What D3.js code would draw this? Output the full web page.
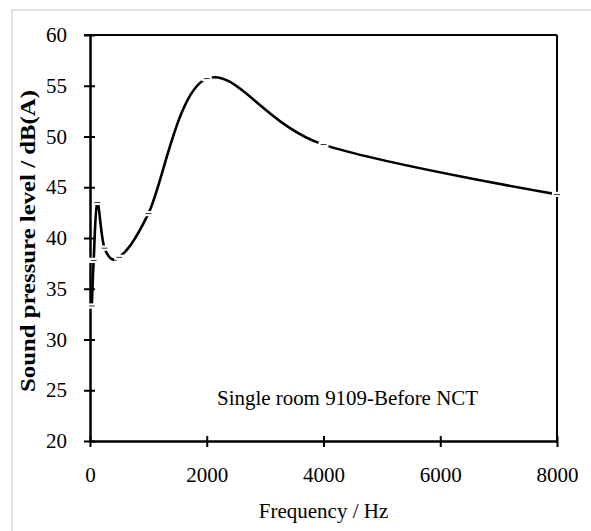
<!DOCTYPE html>
<html><head><meta charset="utf-8">
<script src="https://cdn.jsdelivr.net/npm/d3@7"></script>
<style>html,body{margin:0;padding:0;background:#fff;}svg{display:block;}</style>
</head><body>
<script>
const frequencies = [31.5, 63, 125, 250, 500, 1000, 2000, 4000, 8000];
const splValues = [33.3, 37.8, 43.5, 39.0, 38.1, 42.4, 55.7, 49.2, 44.3];
const xTicks = [0, 2000, 4000, 6000, 8000];
const yTicks = [20, 25, 30, 35, 40, 45, 50, 55, 60];
const annotation = "Single room 9109-Before NCT";
const xTitle = "Frequency / Hz";
const yTitle = "Sound pressure level / dB(A)";

const W = 591, H = 531;
const m = {left: 90, right: 34, top: 35, bottom: 90};
const svg = d3.select("body").append("svg").attr("width", W).attr("height", H);
svg.append("rect").attr("x", 12).attr("y", 10).attr("width", W).attr("height", H)
  .attr("fill", "#fff").attr("stroke", "#d9d9d9").attr("stroke-width", 1.5);

const x = d3.scaleLinear().domain([0, 8000]).range([m.left, W - m.right]);
const y = d3.scaleLinear().domain([20, 60]).range([H - m.bottom, m.top]);
const font = "'Liberation Serif','Times New Roman',serif";

// frame top/right
svg.append("line").attr("x1", x(0) - 6).attr("x2", x(8000)).attr("y1", y(60)).attr("y2", y(60))
  .attr("stroke", "#000").attr("stroke-width", 2);
svg.append("line").attr("x1", x(8000)).attr("x2", x(8000)).attr("y1", y(60)).attr("y2", y(20))
  .attr("stroke", "#000").attr("stroke-width", 2);

const xAxis = svg.append("g").attr("transform", `translate(0,${y(20)})`)
  .call(d3.axisBottom(x).tickValues(xTicks).tickSize(0).tickPadding(26).tickFormat(d3.format("d")));
xAxis.select(".domain").attr("stroke-width", 2.5);
xAxis.selectAll(".tick").append("line").attr("y1", -5).attr("y2", 6).attr("stroke", "#000").attr("stroke-width", 2);
xAxis.selectAll("text").attr("font-family", font).attr("font-size", 21).attr("fill", "#000");

const yAxis = svg.append("g").attr("transform", `translate(${x(0)},0)`)
  .call(d3.axisLeft(y).tickValues(yTicks).tickSize(0).tickPadding(23));
yAxis.select(".domain").attr("stroke-width", 2.5);
yAxis.selectAll(".tick").append("line").attr("x1", -6).attr("x2", 5).attr("stroke", "#000").attr("stroke-width", 2);
yAxis.selectAll("text").attr("font-family", font).attr("font-size", 21).attr("fill", "#000");

const pts = frequencies.map((f, i) => [f, splValues[i]]);
const line = d3.line().x(d => x(d[0])).y(d => y(d[1])).curve(d3.curveCardinal.tension(0));
svg.append("path").attr("d", line(pts)).attr("fill", "none").attr("stroke", "#000").attr("stroke-width", 2.6);

svg.selectAll("rect.mk").data(pts).enter().append("rect").attr("class", "mk")
  .attr("x", d => x(d[0]) - 4).attr("y", d => y(d[1]) - 1.5).attr("width", 8).attr("height", 3)
  .attr("fill", "#000").attr("stroke", "#fff").attr("stroke-width", 2.2);

svg.append("text").attr("x", 217).attr("y", 405).attr("font-family", font).attr("font-size", 21)
  .attr("textLength", 261).attr("lengthAdjust", "spacingAndGlyphs").text(annotation);
svg.append("text").attr("x", (x(0) + x(8000)) / 2).attr("y", 518).attr("text-anchor", "middle")
  .attr("font-family", font).attr("font-size", 21).text(xTitle);
svg.append("text").attr("transform", `translate(35,241) rotate(-90)`)
  .attr("text-anchor", "middle").attr("font-family", font).attr("font-size", 21).attr("font-weight", "bold")
  .attr("textLength", 302).attr("lengthAdjust", "spacingAndGlyphs").text(yTitle);
</script>
</body></html>
